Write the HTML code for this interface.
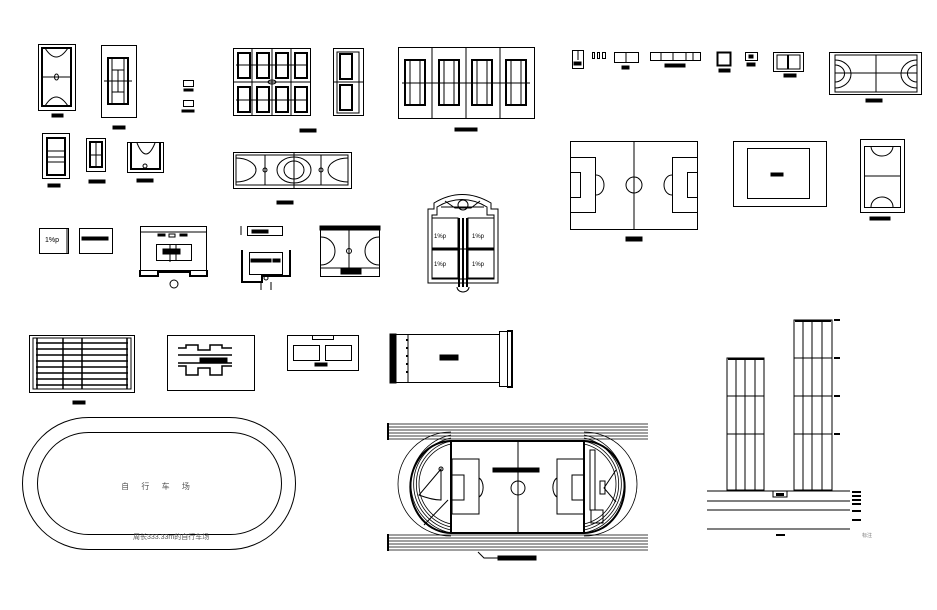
<!DOCTYPE html>
<html><head><meta charset="utf-8">
<style>html,body{margin:0;padding:0;background:#fff;width:937px;height:610px;overflow:hidden}
svg{display:block}
text{font-family:"Liberation Sans","Noto Sans CJK SC",sans-serif}
</style></head><body>
<svg width="937" height="610" viewBox="0 0 937 610" xmlns="http://www.w3.org/2000/svg" fill="none" stroke="#000" stroke-width="1">
<!-- Row 1 -->
<!-- basketball vertical -->
<rect x="38.5" y="44.5" width="37" height="66"/>
<rect x="42" y="48" width="29" height="58" stroke-width="2"/>
<line x1="42" y1="77" x2="71" y2="77"/>
<ellipse cx="56.5" cy="77" rx="2" ry="3"/>
<path d="M45 48 Q56 66 68 48 M45 106 Q56 88 68 106"/>
<rect x="52" y="114" width="11" height="3" fill="#000"/>
<!-- tennis vertical -->
<rect x="101.5" y="45.5" width="35" height="72"/>
<rect x="108" y="58" width="20" height="46" stroke-width="2"/>
<line x1="104" y1="81" x2="132" y2="81"/><line x1="112" y1="58" x2="112" y2="104"/><line x1="124" y1="58" x2="124" y2="104"/>
<line x1="112" y1="70" x2="124" y2="70"/><line x1="112" y1="92" x2="124" y2="92"/><line x1="118" y1="70" x2="118" y2="92"/>
<rect x="113" y="126" width="12" height="3" fill="#000"/>
<rect x="183.5" y="80.5" width="10" height="6"/><rect x="184" y="89" width="9" height="2" fill="#000"/>
<rect x="183.5" y="100.5" width="10" height="6"/><rect x="182" y="110" width="12" height="2" fill="#000"/>
<!-- 8 tennis grid -->
<rect x="233.5" y="48.5" width="77" height="67"/>
<g stroke-width="2">
<rect x="238" y="53" width="12" height="25"/><rect x="257" y="53" width="12" height="25"/><rect x="276" y="53" width="12" height="25"/><rect x="295" y="53" width="12" height="25"/>
<rect x="238" y="87" width="12" height="25"/><rect x="257" y="87" width="12" height="25"/><rect x="276" y="87" width="12" height="25"/><rect x="295" y="87" width="12" height="25"/>
</g>
<line x1="233" y1="82" x2="310" y2="82"/><line x1="252" y1="48" x2="252" y2="116"/><line x1="272" y1="48" x2="272" y2="116"/><line x1="291" y1="48" x2="291" y2="116"/>
<line x1="236" y1="65" x2="308" y2="65"/><line x1="236" y1="100" x2="308" y2="100"/>
<ellipse cx="272" cy="82" rx="4" ry="2"/>
<rect x="300" y="129" width="16" height="3" fill="#000"/>
<rect x="333.5" y="48.5" width="30" height="67"/>
<rect x="337" y="52" width="22" height="61"/>
<rect x="340" y="54" width="12" height="25" stroke-width="2"/><rect x="340" y="85" width="12" height="25" stroke-width="2"/>
<line x1="333" y1="82" x2="363" y2="82"/>
<!-- 4 tennis row -->
<rect x="398.5" y="47.5" width="136" height="71" stroke-width="1"/>
<line x1="466" y1="47" x2="466" y2="119"/><line x1="432" y1="47" x2="432" y2="119"/><line x1="500" y1="47" x2="500" y2="119"/>
<g stroke-width="2"><rect x="405" y="60" width="20" height="45"/><rect x="439" y="60" width="20" height="45"/><rect x="472" y="60" width="20" height="45"/><rect x="506" y="60" width="20" height="45"/></g>
<line x1="402" y1="83" x2="530" y2="83"/>
<line x1="410" y1="60" x2="410" y2="105"/><line x1="420" y1="60" x2="420" y2="105"/><line x1="444" y1="60" x2="444" y2="105"/><line x1="454" y1="60" x2="454" y2="105"/><line x1="477" y1="60" x2="477" y2="105"/><line x1="487" y1="60" x2="487" y2="105"/><line x1="511" y1="60" x2="511" y2="105"/><line x1="521" y1="60" x2="521" y2="105"/>
<rect x="455" y="128" width="22" height="3" fill="#000"/>
<!-- small icons row -->
<rect x="572.5" y="50.5" width="11" height="18"/><rect x="574" y="62" width="7" height="3" fill="#000"/><line x1="578" y1="50" x2="578" y2="60"/>
<rect x="592.5" y="52.5" width="2" height="6"/><rect x="597.5" y="52.5" width="2" height="6"/><rect x="602.5" y="52.5" width="3" height="6"/>
<rect x="614.5" y="52.5" width="24" height="10"/><line x1="626" y1="52" x2="626" y2="62"/><rect x="622" y="66" width="7" height="3" fill="#000"/>
<rect x="650.5" y="52.5" width="50" height="8"/><line x1="661" y1="52" x2="661" y2="60"/><line x1="673" y1="52" x2="673" y2="60"/><line x1="686" y1="52" x2="686" y2="60"/><line x1="693" y1="52" x2="693" y2="60"/><rect x="665" y="64" width="20" height="3" fill="#000"/>
<rect x="717.5" y="52.5" width="13" height="13" stroke-width="2"/><rect x="719" y="69" width="11" height="3" fill="#000"/>
<rect x="745.5" y="52.5" width="12" height="8"/><rect x="749" y="55" width="4" height="3" fill="#000"/><rect x="747" y="63" width="8" height="3" fill="#000"/>
<rect x="773.5" y="52.5" width="30" height="19"/><rect x="777" y="55" width="23" height="14"/><line x1="788" y1="55" x2="788" y2="69" stroke-width="2"/><rect x="784" y="74" width="12" height="3" fill="#000"/>
<!-- handball -->
<rect x="829.5" y="52.5" width="92" height="42"/>
<rect x="835" y="55" width="82" height="37"/>
<line x1="876" y1="55" x2="876" y2="92"/><line x1="835" y1="73" x2="917" y2="73"/>
<path d="M835 60 A16 14 0 0 1 835 88 M835 65 A9 8 0 0 1 835 82 M917 60 A16 14 0 0 0 917 88 M917 65 A9 8 0 0 0 917 82"/>
<rect x="866" y="99" width="16" height="3" fill="#000"/>
<!-- Row 2 -->
<rect x="42.5" y="133.5" width="27" height="45"/>
<rect x="47" y="138" width="18" height="37" stroke-width="2"/>
<line x1="47" y1="151" x2="65" y2="151"/><line x1="47" y1="157" x2="65" y2="157"/><line x1="47" y1="162" x2="65" y2="162"/>
<rect x="48" y="184" width="12" height="3" fill="#000"/>
<rect x="86.5" y="138.5" width="19" height="33"/><rect x="90" y="142" width="12" height="25" stroke-width="2"/>
<line x1="90" y1="155" x2="102" y2="155"/><line x1="96" y1="142" x2="96" y2="167"/>
<rect x="89" y="180" width="16" height="3" fill="#000"/>
<rect x="127.5" y="142.5" width="36" height="30"/><path d="M131 143 V169 H160 V143" stroke-width="2"/>
<path d="M137 143 Q146 165 155 143"/><circle cx="145" cy="166" r="2"/>
<rect x="137" y="179" width="16" height="3" fill="#000"/>
<!-- double basketball -->
<rect x="233.5" y="152.5" width="118" height="36"/><rect x="236" y="155" width="112" height="30"/>
<line x1="294" y1="152" x2="294" y2="188"/><line x1="265" y1="155" x2="265" y2="185"/><line x1="321" y1="155" x2="321" y2="185"/>
<ellipse cx="294" cy="170" rx="17" ry="13"/><ellipse cx="294" cy="170" rx="10" ry="9"/>
<path d="M236 158 A20 12 0 0 1 236 182 M348 158 A20 12 0 0 0 348 182"/>
<circle cx="265" cy="170" r="2"/><circle cx="321" cy="170" r="2"/>
<rect x="277" y="201" width="16" height="3" fill="#000"/>
<!-- soccer -->
<rect x="570.5" y="141.5" width="127" height="88"/>
<line x1="634" y1="141" x2="634" y2="229"/><circle cx="634" cy="185" r="8"/>
<rect x="570.5" y="157.5" width="25" height="55"/><rect x="570.5" y="172.5" width="10" height="25"/>
<rect x="672.5" y="157.5" width="25" height="55"/><rect x="687.5" y="172.5" width="10" height="25"/>
<path d="M596 175 A8 10 0 0 1 596 195 M672 175 A8 10 0 0 0 672 195"/>
<rect x="626" y="237" width="16" height="4" fill="#000"/>
<rect x="733.5" y="141.5" width="93" height="65"/><rect x="747.5" y="148.5" width="62" height="50"/>
<rect x="771" y="173" width="12" height="3" fill="#000"/>
<rect x="860.5" y="139.5" width="44" height="73"/><rect x="864.5" y="146.5" width="36" height="61"/>
<line x1="864" y1="176" x2="900" y2="176"/>
<path d="M871 146 A11 10 0 0 0 893 146 M871 207 A11 10 0 0 1 893 207"/>
<rect x="870" y="217" width="20" height="3" fill="#000"/>
<!-- Row 3 -->
<rect x="39.5" y="228.5" width="29" height="25"/><line x1="67" y1="228" x2="67" y2="253"/>
<text x="45" y="242" font-size="7" fill="#000" stroke="none">1%p</text>
<rect x="79.5" y="228.5" width="33" height="25"/><rect x="82" y="237" width="26" height="3" fill="#000"/>
<rect x="140.5" y="226.5" width="66" height="44"/><line x1="140" y1="232" x2="207" y2="232"/>
<rect x="158" y="234" width="7" height="2" fill="#000"/><rect x="169" y="234" width="6" height="3"/><rect x="180" y="234" width="7" height="2" fill="#000"/>
<rect x="156.5" y="244.5" width="35" height="16"/><rect x="163" y="249" width="17" height="5" fill="#000"/><line x1="170" y1="244" x2="170" y2="262"/><line x1="176" y1="244" x2="176" y2="260"/>
<path d="M140 270 V276 H158 V272 H190 V276 H207 V270" stroke-width="2"/><circle cx="174" cy="284" r="4" fill="#fff"/>
<line x1="241" y1="226" x2="241" y2="235"/><rect x="247.5" y="226.5" width="35" height="9"/><rect x="252" y="230" width="16" height="3" fill="#000"/>
<path d="M242 250 V282 H262 V276 H290 V250" stroke-width="2"/><rect x="249.5" y="252.5" width="33" height="22"/>
<rect x="251" y="259" width="20" height="3" fill="#000"/><rect x="273" y="259" width="7" height="3" fill="#000"/>
<circle cx="266" cy="278" r="2"/><line x1="261" y1="282" x2="261" y2="290"/><line x1="271" y1="282" x2="271" y2="290"/>
<rect x="320.5" y="226.5" width="59" height="50"/><rect x="320" y="226" width="60" height="4" fill="#000"/>
<line x1="349" y1="230" x2="349" y2="268"/><circle cx="349" cy="251" r="2.5"/>
<path d="M321 237 A14 14 0 0 1 321 265 M379 237 A14 14 0 0 0 379 265"/>
<rect x="341" y="268" width="20" height="6" fill="#000"/><line x1="320" y1="268" x2="380" y2="268"/>
<!-- complex shape -->
<path d="M428 283 V209 H434 V203 Q462 186 491 203 V209 H498 V283 Z"/>
<path d="M432 279 V215 H437 V207 Q462 192 487 207 V215 H494 V279 Z"/>
<line x1="441" y1="207" x2="484" y2="207"/><circle cx="463" cy="205" r="5"/><path d="M445 201 L455 208 L471 208 L480 201"/>
<rect x="432" y="218" width="26" height="30"/><rect x="468" y="218" width="26" height="30"/>
<rect x="432" y="250" width="26" height="28"/><rect x="468" y="250" width="26" height="28"/>
<line x1="459" y1="218" x2="459" y2="287" stroke-width="2"/><line x1="463" y1="218" x2="463" y2="287" stroke-width="2"/><line x1="467" y1="218" x2="467" y2="287" stroke-width="2"/>
<line x1="432" y1="249" x2="494" y2="249" stroke-width="1"/>
<path d="M457 287 A6 5 0 0 0 469 287"/>
<g fill="#000" stroke="none" font-size="6"><text x="434" y="238">1%p</text><text x="472" y="238">1%p</text><text x="434" y="266">1%p</text><text x="472" y="266">1%p</text></g>
<!-- Row 4 -->
<rect x="29.5" y="335.5" width="105" height="57"/>
<rect x="33" y="338" width="98" height="51"/>
<g stroke-width="1.5"><line x1="36" y1="343" x2="128" y2="343"/><line x1="36" y1="349" x2="128" y2="349"/><line x1="36" y1="355" x2="128" y2="355"/><line x1="36" y1="361" x2="128" y2="361"/><line x1="36" y1="367" x2="128" y2="367"/><line x1="36" y1="373" x2="128" y2="373"/><line x1="36" y1="379" x2="128" y2="379"/><line x1="36" y1="385" x2="128" y2="385"/>
<line x1="37" y1="338" x2="37" y2="389"/><line x1="63" y1="338" x2="63" y2="389"/><line x1="82" y1="338" x2="82" y2="389"/><line x1="127" y1="338" x2="127" y2="389"/></g>
<rect x="73" y="401" width="12" height="3" fill="#000"/>
<rect x="167.5" y="335.5" width="87" height="55"/>
<path d="M178 348 H186 V345 H198 V350 H210 V345 H222 V348 H232 M178 355 H232 M178 366 H186 V375 H198 V368 H210 V375 H222 V366 H232 M178 363 H232" stroke-width="1.5"/>
<rect x="200" y="358" width="27" height="4" fill="#000"/>
<rect x="287.5" y="335.5" width="71" height="35"/><rect x="312.5" y="335.5" width="21" height="4"/>
<rect x="293.5" y="345.5" width="26" height="15"/><rect x="325.5" y="345.5" width="26" height="15"/>
<rect x="315" y="363" width="12" height="3" fill="#000"/>
<rect x="390.5" y="334.5" width="109" height="48"/><rect x="390" y="334" width="6" height="49" fill="#000"/>
<rect x="499.5" y="331.5" width="12" height="55"/><rect x="507.5" y="330.5" width="5" height="57"/>
<g fill="#000" stroke="none"><rect x="406" y="339" width="2" height="2"/><rect x="406" y="347" width="2" height="2"/><rect x="406" y="355" width="2" height="2"/><rect x="406" y="363" width="2" height="2"/><rect x="406" y="371" width="2" height="2"/></g>
<line x1="408" y1="334" x2="408" y2="383"/>
<rect x="440" y="355" width="18" height="5" fill="#000"/>
<!-- bicycle oval -->
<rect x="22.5" y="417.5" width="273" height="132" rx="66" ry="66"/>
<rect x="37.5" y="432.5" width="244" height="102" rx="51" ry="51"/>
<text x="158" y="489" font-size="8" fill="#555" stroke="none" text-anchor="middle" letter-spacing="5">自 行 车 场</text>
<text x="133" y="539" font-size="7" fill="#555" stroke="none">周长333.33m的自行车场</text>
<!-- stadium -->
<g stroke-width="0.8">
<path d="M388 424 H648 M388 427 H648 M388 430 H648 M388 433 H648 M388 436 H648 M388 439 H648"/>
<path d="M388 535 H648 M388 538 H648 M388 541 H648 M388 544 H648 M388 547 H648 M388 550 H648"/>
<path d="M451 432 A53 52 0 0 0 451 536 M451 435 A50 50 0 0 0 451 533 M451 438 A47 47 0 0 0 451 530 M451 441 A44 44 0 0 0 451 527 M451 444 A41 41 0 0 0 451 524"/>
<path d="M584 432 A53 52 0 0 1 584 536 M584 435 A50 50 0 0 1 584 533 M584 438 A47 47 0 0 1 584 530 M584 441 A44 44 0 0 1 584 527 M584 444 A41 41 0 0 1 584 524"/>
</g>
<line x1="388" y1="423" x2="388" y2="440" stroke-width="2"/><line x1="388" y1="534" x2="388" y2="551" stroke-width="2"/>
<path d="M451 441 A38 43 0 0 0 451 533" stroke-width="2"/><path d="M584 441 A38 43 0 0 1 584 533" stroke-width="2"/>
<rect x="451" y="441" width="133" height="92" stroke-width="2"/>
<line x1="518" y1="441" x2="518" y2="533"/><circle cx="518" cy="488" r="7"/>
<rect x="452" y="459" width="27" height="55"/><rect x="452" y="475" width="12" height="25"/>
<rect x="557" y="459" width="27" height="55"/><rect x="572" y="475" width="12" height="25"/>
<path d="M479 478 A6 10 0 0 1 479 497 M557 478 A6 10 0 0 0 557 497"/>
<rect x="493" y="468" width="46" height="4" fill="#000"/>
<circle cx="441" cy="469" r="2"/><path d="M441 469 L419 495 Q432 500 441 500 Z"/><line x1="424" y1="525" x2="448" y2="500"/>
<rect x="590" y="450" width="5" height="60"/><rect x="591" y="510" width="12" height="13"/>
<path d="M616 470 L604 488 L616 502"/><rect x="600" y="481" width="5" height="13"/>
<path d="M478 552 L484 558 H498"/><rect x="498" y="556" width="38" height="4" fill="#000"/>
<!-- tower chart -->
<g stroke-width="1">
<rect x="727" y="358" width="37" height="132"/><line x1="736" y1="358" x2="736" y2="490"/><line x1="745" y1="358" x2="745" y2="490"/><line x1="755" y1="358" x2="755" y2="490"/>
<line x1="727" y1="396" x2="764" y2="396"/><line x1="727" y1="434" x2="764" y2="434"/>
<rect x="794" y="320" width="38" height="170"/><line x1="803" y1="320" x2="803" y2="490"/><line x1="812" y1="320" x2="812" y2="490"/><line x1="822" y1="320" x2="822" y2="490"/>
<line x1="794" y1="358" x2="832" y2="358"/><line x1="794" y1="396" x2="832" y2="396"/><line x1="794" y1="434" x2="832" y2="434"/>
<line x1="707" y1="491" x2="850" y2="491"/><line x1="707" y1="501" x2="850" y2="501"/><line x1="707" y1="510" x2="850" y2="510"/><line x1="707" y1="529" x2="850" y2="529"/>
<rect x="773" y="491" width="14" height="6"/>
</g>
<g fill="#000" stroke="none">
<rect x="776" y="493" width="8" height="3"/>
<rect x="852" y="491" width="9" height="2"/><rect x="852" y="495" width="9" height="2"/><rect x="852" y="499" width="9" height="2"/><rect x="852" y="503" width="9" height="2"/><rect x="852" y="510" width="9" height="2"/><rect x="852" y="519" width="9" height="2"/>
<rect x="776" y="534" width="9" height="2"/>
<rect x="834" y="319" width="6" height="2"/><rect x="834" y="357" width="6" height="2"/><rect x="834" y="395" width="6" height="2"/><rect x="834" y="433" width="6" height="2"/>
<rect x="728" y="358" width="36" height="2"/><rect x="795" y="320" width="36" height="2"/>
</g>
<text x="862" y="537" font-size="5" fill="#777" stroke="none">标注</text>
</svg>
</body></html>
